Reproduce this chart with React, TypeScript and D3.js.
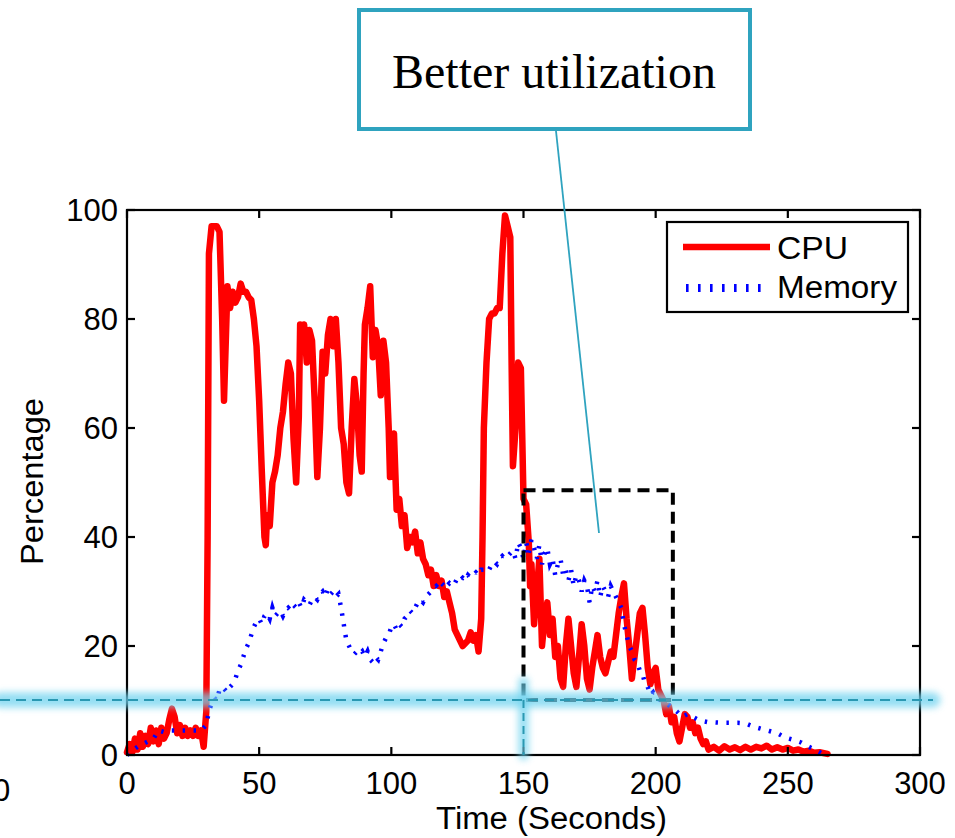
import React from "react";
import * as d3 from "d3";

const xTicks = [0, 50, 100, 150, 200, 250, 300];
const yTicks = [0, 20, 40, 60, 80, 100];

const cpuSeries: [number, number][] = [
  [0, 0.5], [1, 2], [2, 0.5], [3, 3], [4, 1], [5, 4], [6, 1.5], [7, 3.5], [8, 2], [9, 5], [10, 2.5],
  [11, 4.5], [12, 2], [13, 5], [14, 3], [15, 4], [16, 6.5], [17, 8.5], [18, 7], [19, 4], [20, 5.5],
  [21, 3.5], [22, 5], [23, 3.5], [24, 4.5], [25, 3.5], [26, 5], [27, 3.5], [28, 4.5], [29, 1.5], [30, 8],
  [30.5, 40], [31, 92], [32, 97], [33, 97], [34, 97], [35, 96], [36, 80], [36.7, 65], [37.5, 78], [38, 86],
  [39, 82], [40, 85], [41, 83], [42, 84], [43, 86.5], [44, 85], [45, 85], [46, 84], [47, 83.5], [48, 80],
  [49, 75], [50, 65], [51, 52], [52, 40], [52.5, 38.5], [53, 44], [54, 42], [55, 50], [56, 52], [57, 55],
  [58, 60], [59, 63], [60, 68], [61, 72], [62, 70], [63, 58], [64, 50], [65, 62], [65.5, 79], [66, 76],
  [67, 79], [68, 72], [69, 78], [70, 76], [71, 65], [72, 51], [73, 60], [74, 74], [75, 70], [76, 77],
  [77, 80], [78, 75], [79, 80], [80, 72], [81, 60], [82, 57], [83, 50], [84, 48], [85, 60], [86, 69],
  [87, 64], [88, 55], [88.8, 52], [89.5, 70], [90, 79], [91, 82], [92, 86], [93, 73], [94, 78], [95, 75],
  [96, 66], [97, 76], [98, 72], [99, 60], [99.5, 51], [100, 56], [101, 59], [102, 45], [103, 47], [104, 42],
  [105, 44], [106, 38], [107, 40], [108, 39], [109, 41], [110, 37], [111, 39], [112, 36], [113, 35], [114, 33],
  [115, 34], [116, 31], [117, 33], [118, 31], [119, 32], [120, 29], [121, 30], [122, 28], [123, 26], [124, 23],
  [125, 22], [126, 21], [127, 20], [128, 20.5], [129, 21], [130, 22.5], [131, 21], [132, 22], [133, 19], [134, 25],
  [134.5, 40], [135, 60], [136, 72], [137, 80], [138, 81], [139, 81], [140, 82], [141, 82], [142, 92], [143, 99],
  [144, 97], [145, 95], [145.5, 72], [146, 53], [147, 60], [148, 72], [149, 71], [149.5, 59], [150, 47], [151, 46],
  [152, 39], [152.5, 31], [153, 35], [154, 24], [155, 30], [156, 36], [157, 20], [158, 25], [159, 28], [160, 22],
  [161, 25], [162, 18], [163, 20], [164, 14], [165, 12.5], [166, 20], [167, 25], [168, 20], [169, 15], [170, 12.5],
  [171, 18], [172, 24], [173, 20], [174, 14], [175, 12], [176, 16], [177, 19], [178, 22], [179, 18], [180, 16],
  [181, 15], [182, 17], [183, 19], [184, 18], [185, 22], [186, 26], [187, 29], [188, 31.5], [189, 25], [190, 20],
  [191, 14], [192, 18], [193, 22], [194, 26], [195, 27], [196, 22], [197, 16], [198, 13], [199, 15], [200, 16],
  [201, 12], [202, 11], [203, 10], [204, 7.5], [205, 9], [206, 6], [207, 7], [208, 4], [209, 2.5], [210, 5],
  [211, 7.5], [212, 7], [213, 5], [214, 6], [215, 4], [216, 5], [217, 3], [218, 2], [219, 2.5], [220, 1],
  [222, 1.5], [224, 0.8], [226, 1.6], [228, 1], [230, 1.4], [232, 0.9], [234, 1.5], [236, 1], [238, 1.5], [240, 1.2],
  [242, 1.7], [244, 1], [246, 1.4], [248, 1], [250, 1.3], [252, 0.8], [254, 1], [256, 0.6], [258, 0.8], [260, 0.4],
  [262, 0.5], [265, 0.2],
];

const memorySeries: [number, number][] = [
  [0, 0], [2, 0.8], [4, 1.5], [6, 2], [8, 2.5], [10, 3], [12, 4.5], [14, 4.2], [16, 4.5], [18, 4.5],
  [20, 4.5], [22, 4.5], [24, 4.5], [26, 4.5], [28, 4.5], [30, 5.5], [31, 8], [32, 9.5], [33, 10.5], [34, 10],
  [35, 12], [36, 12.5], [37, 12], [38, 11.5], [39, 12.5], [40, 13], [41, 14], [42, 15.5], [43, 16.5], [44, 18],
  [45, 19.5], [46, 20.5], [47, 22], [48, 23.5], [49, 24.5], [50, 25], [51, 24], [52, 25.5], [53, 26], [54, 25],
  [55, 27], [56, 25.5], [57, 26], [58, 26.5], [59, 25.5], [60, 26.5], [61, 27], [62, 26.5], [63, 27.5], [64, 27],
  [65, 28], [66, 27], [67, 28.5], [68, 28], [69, 27.5], [70, 28.5], [71, 29], [72, 28.5], [73, 29.5], [74, 30],
  [75, 29], [76, 30.5], [77, 29.5], [78, 30], [79, 29], [80, 29.5], [81, 27], [82, 24], [83, 21], [84, 20],
  [85, 19], [86, 18.5], [87, 19], [88, 18.5], [89, 19], [90, 18], [91, 19], [92, 17.5], [93, 17], [94, 18],
  [95, 17.5], [96, 19], [97, 20.5], [98, 21.5], [99, 22], [100, 23.5], [101, 24], [102, 23], [103, 24], [104, 23.5],
  [105, 25], [106, 25.5], [107, 26.5], [108, 26], [109, 27], [110, 28], [111, 28.5], [112, 28], [113, 29], [114, 29.5],
  [115, 30], [116, 30.5], [117, 31], [118, 30.5], [119, 31.5], [120, 31], [121, 32], [122, 31.5], [123, 32], [124, 31.5],
  [125, 32.5], [126, 32], [127, 32.5], [128, 32], [129, 33], [130, 32.5], [131, 33], [132, 33.5], [133, 33], [134, 34],
  [135, 34], [136, 34.5], [137, 34], [138, 35], [139, 35.5], [140, 35], [141, 36], [142, 36.5], [143, 36], [144, 36.5],
  [145, 37], [146, 37.5], [147, 36], [148, 39], [149, 38], [150, 36], [151, 39], [152, 37], [153, 39.5], [154, 38],
  [155, 36], [156, 38.5], [157, 35], [158, 37], [159, 38], [160, 35], [161, 36], [162, 33], [163, 35], [164, 36],
  [165, 33], [166, 34], [167, 32], [168, 34], [169, 31], [170, 33], [171, 32], [172, 30], [173, 32], [174, 31],
  [175, 28], [176, 31], [177, 30], [178, 32], [179, 29], [180, 31], [181, 30], [182, 29], [183, 31], [184, 30],
  [185, 29], [186, 28], [187, 27], [188, 24], [189, 22], [190, 20], [191, 19], [192, 17.5], [193, 17], [194, 15.5],
  [195, 15], [196, 13], [197, 12.5], [198, 11], [199, 11.5], [200, 10.5], [202, 10], [204, 9.5], [206, 8.8], [208, 8],
  [210, 7], [212, 7.5], [214, 7], [216, 6.5], [218, 6.2], [220, 6], [222, 6], [225, 5.9], [228, 5.9], [231, 5.9],
  [234, 5.8], [237, 5.2], [240, 4.8], [243, 4.4], [246, 4], [249, 3.2], [252, 2.8], [255, 2.3], [258, 1.5], [261, 0.8],
  [264, 0],
];

const seriesNames = ["CPU", "Memory"];
const highlightTime = [150, 206.5];
const highlightPct = [10.1, 48.6];
const thresholdPct = 10.1;
const calloutText = "Better utilization";

const W = 955;
const H = 838;
const sans = "'Liberation Sans', Arial, Helvetica, sans-serif";
const serif = "'Liberation Serif', 'Times New Roman', serif";
const teal = "#2fa3bf";
const FS = 31;

export default function App() {
  const x = d3.scaleLinear().domain([0, 300]).range([127, 920]);
  const y = d3.scaleLinear().domain([0, 100]).range([755, 210]);
  const line = d3
    .line<[number, number]>()
    .x((d) => x(d[0]))
    .y((d) => y(d[1]));

  const [x0, x1] = x.range();
  const [yb, yt] = y.range();
  const hx0 = x(highlightTime[0]);
  const hx1 = x(highlightTime[1]);
  const hy0 = y(highlightPct[1]);
  const hy1 = y(highlightPct[0]);
  const ty = y(thresholdPct);

  return (
    <svg
      width={W}
      height={H}
      style={{ position: "absolute", left: 0, top: 0, background: "#fff" }}
    >
      <defs>
        <filter id="glow" filterUnits="userSpaceOnUse" x={-50} y={-50} width={W + 100} height={H + 100}>
          <feGaussianBlur stdDeviation={3.5} />
        </filter>
      </defs>
      <rect x={0} y={0} width={W} height={H} fill="#fff" />

      {/* data lines */}
      <path
        d={line(cpuSeries) || ""}
        fill="none"
        stroke="#ff0000"
        strokeWidth={6.5}
        strokeLinejoin="round"
        strokeLinecap="round"
      />
      <path
        d={line(memorySeries) || ""}
        fill="none"
        stroke="#0000ff"
        strokeWidth={4.5}
        strokeDasharray="2.4 8.5"
      />

      {/* axes box */}
      <rect x={x0} y={yt} width={x1 - x0} height={yb - yt} fill="none" stroke="#000" strokeWidth={2.2} />
      {xTicks.map((t) => (
        <g key={"xt" + t}>
          <line x1={x(t)} x2={x(t)} y1={yb} y2={yb - 8} stroke="#000" strokeWidth={2.2} />
          <line x1={x(t)} x2={x(t)} y1={yt} y2={yt + 8} stroke="#000" strokeWidth={2.2} />
          <text x={x(t)} y={794} textAnchor="middle" fontFamily={sans} fontSize={FS} fill="#000">
            {t}
          </text>
        </g>
      ))}
      {yTicks.map((v) => (
        <g key={"yt" + v}>
          <line x1={x0} x2={x0 + 8} y1={y(v)} y2={y(v)} stroke="#000" strokeWidth={2.2} />
          <line x1={x1} x2={x1 - 8} y1={y(v)} y2={y(v)} stroke="#000" strokeWidth={2.2} />
          <text x={118} y={y(v) + 11} textAnchor="end" fontFamily={sans} fontSize={FS} fill="#000">
            {v}
          </text>
        </g>
      ))}
      <text
        x={436}
        y={829}
        fontFamily={sans}
        fontSize={FS}
        fill="#000"
        textLength={231}
        lengthAdjust="spacingAndGlyphs"
      >
        Time (Seconds)
      </text>
      <text
        transform={`translate(43,565) rotate(-90)`}
        fontFamily={sans}
        fontSize={FS}
        fill="#000"
        textLength={167}
        lengthAdjust="spacingAndGlyphs"
      >
        Percentage
      </text>
      {/* stray label cut at the left edge, as in the source image */}
      <text x={-7} y={801} fontFamily={sans} fontSize={FS} fill="#000">
        0
      </text>

      {/* legend */}
      <rect x={667} y={222} width={241} height={90} fill="#fff" stroke="#000" strokeWidth={2.2} />
      <line x1={683} x2={770} y1={247} y2={247} stroke="#ff0000" strokeWidth={6.5} />
      <text x={777} y={259} fontFamily={sans} fontSize={FS} fill="#000" textLength={71} lengthAdjust="spacingAndGlyphs">
        {seriesNames[0]}
      </text>
      <line x1={686} x2={766} y1={288} y2={288} stroke="#0000ff" strokeWidth={8} strokeDasharray="2.6 9.4" />
      <text x={777} y={298} fontFamily={sans} fontSize={FS} fill="#000" textLength={120} lengthAdjust="spacingAndGlyphs">
        {seriesNames[1]}
      </text>

      {/* highlight rectangle */}
      <rect
        x={hx0}
        y={hy0}
        width={hx1 - hx0}
        height={hy1 - hy0}
        fill="none"
        stroke="#000"
        strokeWidth={4}
        strokeDasharray="12 7"
      />

      {/* threshold glow lines */}
      <line x1={0} x2={933} y1={ty} y2={ty} stroke="#6fd3ef" strokeWidth={15} strokeLinecap="round" opacity={0.75} filter="url(#glow)" />
      <line x1={hx0} x2={hx0} y1={682} y2={yb} stroke="#6fd3ef" strokeWidth={10} strokeLinecap="round" opacity={0.75} filter="url(#glow)" />
      <line x1={0} x2={933} y1={ty} y2={ty} stroke="#2a98b2" strokeWidth={2} strokeDasharray="10 6" />
      <line x1={hx0} x2={hx0} y1={ty} y2={yb} stroke="#2a98b2" strokeWidth={2} strokeDasharray="8 5" />

      {/* callout */}
      <line x1={556} y1={131} x2={599} y2={533} stroke={teal} strokeWidth={1.8} />
      <rect x={359} y={10} width={391} height={119} fill="#fff" stroke={teal} strokeWidth={4} />
      <text x={554} y={88} textAnchor="middle" fontFamily={serif} fontSize={48} fill="#000">
        {calloutText}
      </text>
    </svg>
  );
}
